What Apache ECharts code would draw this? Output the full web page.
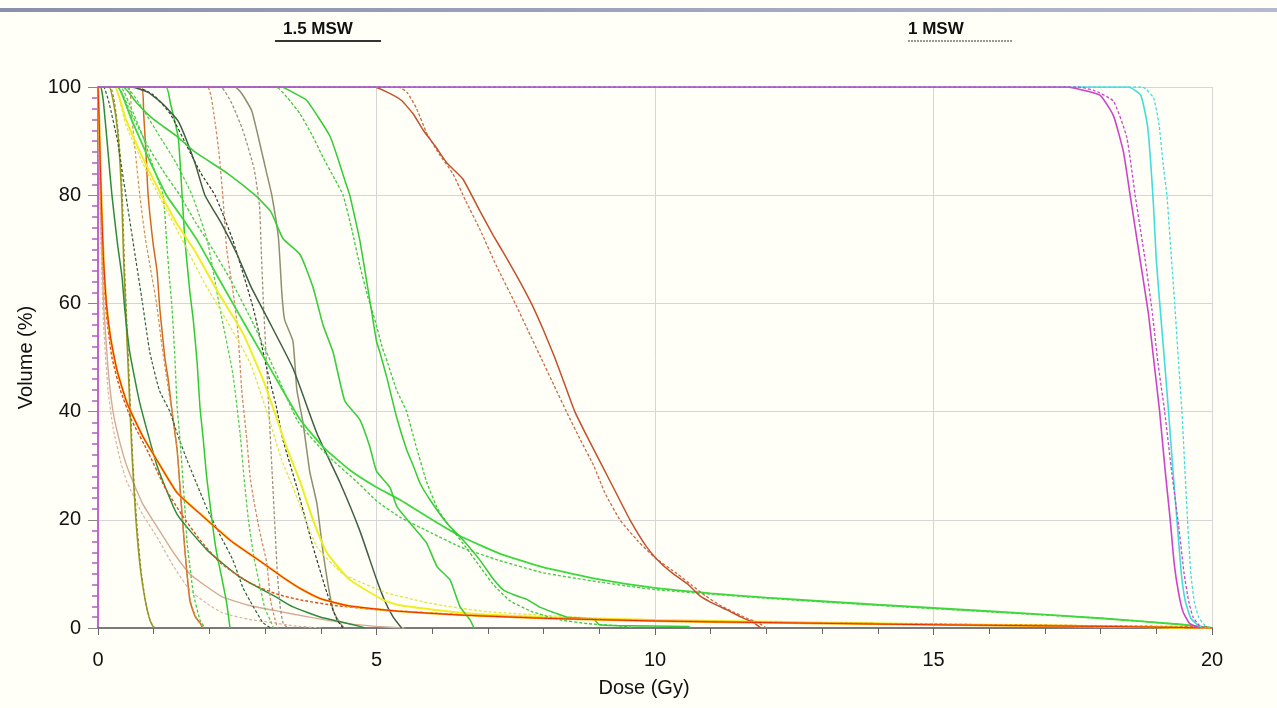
<!DOCTYPE html>
<html><head><meta charset="utf-8">
<script src="https://cdn.jsdelivr.net/npm/echarts@6/dist/echarts.min.js"></script>
<style>html,body{margin:0;padding:0;background:#FFFFF7;}#c{width:1277px;height:708px;}</style>
</head><body><div id="c"></div>
<script>
// ---- axis ticks ----
const xTickValues = [0, 5, 10, 15, 20];
const yTickValues = [0, 20, 40, 60, 80, 100];
const legendLabels = ['1.5 MSW', '1 MSW'];

// ---- DVH curves: [dose Gy, volume %] ----
const redOrangeSolid = [[0,100],[0.02,94],[0.04,86],[0.07,76],[0.1,68],[0.15,60],[0.22,54],[0.34,47.7],[0.52,41.6],[0.81,35.3],[1.06,31],[1.42,25],[1.9,20.5],[2.4,16],[2.96,12],[3.3,9.5],[3.63,7.3],[4.0,5.4],[4.5,4.1],[5.4,3.1],[6.5,2.4],[8,1.8],[10,1.3],[12,1.0],[15,0.6],[18,0.3],[20,0]];
const redOrangeDashed = [[0,100],[0.02,92],[0.04,84],[0.07,74],[0.1,66],[0.15,58],[0.25,50],[0.4,44],[0.6,38.5],[0.9,32.5],[1.2,26],[1.5,21],[1.83,16.3],[2.2,12],[2.73,8.3],[3.2,6.3],[3.63,5.2],[4.22,4.2],[5,3.4],[7,2.2],[10,1.3],[15,0.7],[19.9,0.2],[20,0]];
const tanSolid = [[0,100],[0.02,90],[0.05,75],[0.1,60],[0.18,48],[0.27,40],[0.4,34],[0.55,29],[0.8,23],[1.06,18.7],[1.35,14],[1.65,10],[2.0,7.3],[2.24,5.7],[2.7,4.2],[3.14,3.3],[3.8,2],[4.5,0.8],[5,0.3],[5.5,0]];
const tanDashed = [[0,100],[0.02,88],[0.05,72],[0.1,56],[0.18,44],[0.27,37],[0.4,31],[0.52,27],[0.8,21],[1.06,16.8],[1.35,11.5],[1.65,7],[2.0,4.2],[2.24,2.8],[2.7,1.6],[3.14,1],[3.5,0.4],[4,0]];
const darkGreenSolid = [[0,100],[0.05,100],[0.1,97],[0.18,88],[0.25,80],[0.35,71],[0.43,65],[0.48,59],[0.57,51],[0.75,41.6],[1.06,30],[1.42,21],[1.96,14.4],[2.55,9.4],[3.2,5.7],[3.5,3.9],[4.0,2],[4.34,1.2],[4.7,0.3],[4.8,0]];
const darkGreenDashed = [[0,100],[0.1,100],[0.2,97],[0.35,90],[0.5,80],[0.65,70],[0.8,60],[0.93,51],[1.1,44],[1.29,40],[1.42,36],[1.6,31],[1.96,22],[2.2,17],[2.42,12.6],[2.6,7.5],[2.73,5],[2.96,1],[3.1,0]];
const oliveSolid = [[0,100],[0.2,100],[0.28,97],[0.35,92],[0.4,85],[0.43,78],[0.46,68],[0.5,58],[0.55,46],[0.61,32],[0.68,20],[0.76,11],[0.85,5],[0.93,1.5],[1.0,0]];
const oliveDashed = [[0,100],[0.22,100],[0.3,97],[0.37,91],[0.42,84],[0.45,76],[0.48,66],[0.52,56],[0.57,44],[0.63,30],[0.7,19],[0.78,10],[0.87,4],[0.95,1],[1.02,0]];
const peruSolid = [[0,100],[0.78,100],[0.82,95],[0.86,88],[0.9,80],[0.99,71],[1.06,66],[1.11,59],[1.2,50],[1.26,46],[1.33,40],[1.42,33],[1.48,25],[1.56,14.4],[1.65,5],[1.75,2],[1.83,1],[1.88,0]];
const peruDashed = [[0,100],[0.55,100],[0.6,95],[0.68,87],[0.75,80],[0.85,72],[0.95,66],[1.05,60],[1.15,52],[1.25,45],[1.33,40],[1.42,33],[1.5,22],[1.58,12],[1.66,5],[1.78,1.5],[1.9,0]];
const yellowSolid = [[0,100],[0.3,100],[0.5,94],[0.8,87],[1.14,80],[1.4,75],[1.74,69.7],[2.13,62.5],[2.6,54.5],[2.96,46],[3.2,39],[3.4,33],[3.63,27],[3.86,20],[4.11,13.9],[4.52,8.9],[5.12,5.2],[5.42,4.2],[6.5,2.8],[8,2],[10,1.5],[13,1.0],[16,0.6],[19,0.2],[19.5,0]];
const yellowDashed = [[0,100],[0.3,100],[0.5,93],[0.8,86],[1.14,79],[1.5,72],[1.9,64],[2.3,57],[2.73,49],[3.03,40],[3.3,31],[3.5,26],[3.93,15],[4.4,10],[5.19,6.5],[6,4.5],[7,3],[9,1.8],[12,1],[16,0.5],[19.5,0]];
const brightGreenSolid = [[0,100],[1.22,100],[1.3,97],[1.44,90.7],[1.51,80],[1.56,71.7],[1.65,62],[1.71,57],[1.78,49],[1.83,40.9],[1.89,34.8],[1.95,28],[2.01,23],[2.07,18],[2.13,13.9],[2.22,9.4],[2.31,4.6],[2.37,0]];
const lightGreenDashed = [[0,100],[0.4,100],[0.6,96],[0.8,91],[1.0,85],[1.17,80],[1.23,71.7],[1.28,65],[1.33,59],[1.38,50],[1.42,41],[1.47,35],[1.5,31],[1.56,22],[1.6,15.7],[1.71,6.5],[1.83,1.5],[1.92,0]];
const midGreenDashed = [[0,100],[0.5,100],[0.8,96],[1.1,91],[1.4,86],[1.69,80],[1.96,71.7],[2.19,59],[2.42,47],[2.55,36],[2.62,28],[2.7,20],[2.8,13],[2.91,7.6],[3.0,3.5],[3.09,1.5],[3.15,0]];
const tailGreenSolid = [[0,100],[0.35,100],[0.6,94],[0.9,87],[1.23,80],[1.5,76],[1.78,71.7],[2.2,64],[2.7,55],[3.23,45.5],[3.63,38.5],[4.04,33.5],[4.52,29.2],[5.0,26],[5.42,23.7],[6,20],[6.5,17],[7.2,13.8],[8,11.2],[9,9],[10,7.4],[11,6.4],[12,5.6],[14,4.3],[16,3.1],[18,1.8],[19.5,0.6],[20,0]];
const tailGreenDashed = [[0,100],[0.35,100],[0.6,95],[0.9,89],[1.2,84],[1.47,80],[1.75,75],[2.0,71],[2.4,64],[2.8,56],[3.2,47],[3.6,38],[4.11,32],[4.65,27],[5.0,23.5],[5.42,20.5],[6,17.5],[6.5,15],[7.2,12.5],[8,10.2],[9,8.5],[10,7.1],[12,5.5],[14,4.2],[16,3.0],[18,1.8],[19.5,0.6],[20,0]];
const shoulderGreenSolid = [[0,100],[0.45,100],[0.7,97],[1.0,94],[1.4,91],[1.74,88],[2.33,84],[2.82,80],[3.1,77],[3.32,72],[3.63,69],[3.86,63],[4.04,56],[4.22,51],[4.43,42],[4.7,38.5],[4.88,33.5],[5.0,29],[5.24,26],[5.37,22.4],[5.66,18.7],[5.9,15.7],[6.09,11.3],[6.32,8.9],[6.5,3.9],[6.68,1.5],[6.75,0]];
const darkSlateSolid = [[0,100],[0.6,100],[0.9,99],[1.15,97],[1.44,93.7],[1.74,86],[1.92,80],[2.22,74.7],[2.5,69],[2.75,63],[3.03,57.5],[3.5,48],[3.93,36],[4.34,27],[4.7,18],[5.0,9],[5.15,5],[5.3,2],[5.45,0]];
const darkSlateDashed = [[0,100],[0.7,100],[1.0,98.5],[1.3,95],[1.6,89],[1.85,84],[2.1,80],[2.42,71.7],[2.79,59],[3.03,48],[3.2,41],[3.32,34.8],[3.57,26],[3.86,15],[4.11,6.5],[4.29,1.5],[4.4,0]];
const salmonDashed = [[0,100],[1.96,100],[2.08,95],[2.17,88],[2.24,80],[2.31,70],[2.42,62.5],[2.51,55],[2.58,44],[2.67,35],[2.73,28],[2.79,24],[2.9,18],[3.03,12],[3.1,5],[3.18,1.5],[3.22,0]];
const oliveGraySolid = [[0,100],[2.46,100],[2.58,98.8],[2.76,95.6],[2.94,88],[3.03,84],[3.12,80],[3.24,72],[3.3,62],[3.35,57],[3.5,53],[3.57,44],[3.68,38],[3.8,29],[3.93,23],[4.04,14],[4.13,8],[4.22,3.3],[4.34,1],[4.42,0]];
const grayBrownDashed = [[0,100],[2.2,100],[2.4,97],[2.6,92],[2.8,85],[2.9,78],[2.93,70],[2.97,60],[3.03,48],[3.08,38],[3.13,28],[3.18,18],[3.22,10],[3.27,4],[3.32,1],[3.4,0]];
const limeSolid = [[0,100],[3.3,100],[3.5,99],[3.74,97.6],[3.95,94.5],[4.17,90.8],[4.3,87],[4.43,82.8],[4.52,80],[4.62,75.5],[4.7,71.7],[4.82,64.3],[4.92,58],[5.0,53],[5.06,51],[5.18,46.5],[5.36,39],[5.54,33],[5.66,30],[5.78,26.8],[5.96,23.7],[6.26,19.4],[6.55,16.3],[6.86,12.5],[7.1,9],[7.28,7],[7.5,6],[7.7,5.3],[7.94,3.8],[8.2,2.8],[8.42,2],[8.9,1.6],[9.0,0.6],[9.5,0.4],[10.6,0.3],[10.65,0]];
const limeDashed = [[0,100],[3.2,100],[3.4,98],[3.63,95],[3.85,91],[4.04,87],[4.25,83],[4.4,80],[4.55,74],[4.7,67],[4.85,61],[4.97,57],[5.1,52],[5.2,49],[5.36,44],[5.54,40],[5.7,34],[5.9,27],[6.1,22],[6.3,19],[6.6,15],[6.86,11.3],[7.1,8],[7.4,5],[7.8,3],[8.3,1.5],[8.8,0.8],[9.5,0.3],[9.6,0]];
const siennaSolid = [[0,100],[4.95,100],[5.2,99],[5.45,97.5],[5.66,95],[5.84,92],[6.06,89],[6.26,86],[6.55,83],[6.86,77],[7.1,72.5],[7.3,69],[7.55,64.5],[7.78,60],[8.0,55],[8.2,50],[8.38,45],[8.56,40],[8.8,35],[9.05,30],[9.3,25],[9.55,20],[9.85,15],[10.1,12],[10.33,10],[10.6,8],[10.8,6],[11.05,4.5],[11.3,3.3],[11.55,2],[11.77,1],[11.9,0]];
const siennaDashed = [[0,100],[5.4,100],[5.55,99],[5.72,96],[5.9,91.5],[6.1,88],[6.37,84],[6.6,79],[6.86,73.6],[7.15,67],[7.49,60],[7.72,55],[7.95,50],[8.18,45],[8.41,40],[8.65,35],[8.9,30],[9.1,25],[9.37,20],[9.7,16],[10.0,13],[10.4,10],[10.65,8],[10.9,6],[11.15,4.3],[11.4,3],[11.65,1.8],[11.85,1],[12.0,0]];
const cyanSolid = [[0,100],[18.5,100],[18.72,98.5],[18.84,93],[18.9,86],[18.95,78],[19.0,68],[19.07,59],[19.15,49],[19.22,40],[19.3,29],[19.37,20],[19.45,10],[19.52,5],[19.62,1.8],[19.78,0.3],[19.9,0]];
const cyanDashed = [[0,100],[18.75,100],[18.95,98],[19.05,93],[19.12,86],[19.19,80],[19.26,70],[19.33,60],[19.4,49],[19.46,40],[19.51,30],[19.56,20],[19.62,10],[19.68,5],[19.76,2],[19.88,0.4],[20,0]];
const magentaSolid = [[0,100],[17.4,100],[17.65,99.5],[17.99,98.5],[18.23,94.7],[18.41,88],[18.53,80],[18.71,68],[18.86,58],[18.96,49],[19.06,40],[19.16,29],[19.25,20],[19.32,12],[19.4,6.5],[19.48,3],[19.6,0.8],[19.78,0]];
const magentaDashed = [[0,100],[17.6,100],[17.9,99.3],[18.23,97.4],[18.47,90.7],[18.62,80],[18.8,68],[18.92,59],[19.03,49],[19.15,40],[19.28,28.5],[19.4,19],[19.5,10],[19.58,5],[19.66,2],[19.78,0.4],[19.9,0]];

// ---- series list: [data, colour, dashed, width] ----
const curves = [
  [tanSolid,'#D4AA98',false,1.4],[tanDashed,'#D8B4A4',true,1.2],
  [oliveSolid,'#9A9A20',false,1.5],[oliveDashed,'#8E8E30',true,1.2],
  [peruSolid,'#D2691E',false,1.5],[peruDashed,'#D09050',true,1.2],
  [darkGreenSolid,'#2E8B3A',false,1.5],[darkGreenDashed,'#2F5F3F',true,1.2],
  [lightGreenDashed,'#44CC44',true,1.3],[midGreenDashed,'#55CC55',true,1.3],
  [brightGreenSolid,'#2ECC2E',false,1.5],
  [salmonDashed,'#D08868',true,1.3],
  [grayBrownDashed,'#9C8E80',true,1.3],[oliveGraySolid,'#8E8E70',false,1.5],
  [darkSlateDashed,'#2A3A2E',true,1.2],[darkSlateSolid,'#3E5E44',false,1.5],
  [yellowDashed,'#E2E24A',true,1.3],[yellowSolid,'#EEEE22',false,2],
  [tailGreenDashed,'#4CCC4C',true,1.4],[tailGreenSolid,'#3ED83E',false,1.8],
  [shoulderGreenSolid,'#3CCC3C',false,1.6],
  [limeDashed,'#3CC83C',true,1.3],[limeSolid,'#33CC33',false,1.5],
  [siennaDashed,'#C66A4A',true,1.3],[siennaSolid,'#C4502C',false,1.5],
  [redOrangeDashed,'#D8501A',true,1.4],
  [redOrangeSolid,'#FFA010',false,2.2],[redOrangeSolid,'#E02A00',false,1],
  [cyanDashed,'#40DDE0',true,1.3],[cyanSolid,'#40DDDD',false,1.6],
  [magentaDashed,'#CC44CC',true,1.3],[magentaSolid,'#CC44CC',false,1.6]
];

const series = curves.map((c, i) => ({
  type: 'line', data: c[0], showSymbol: false, symbol: 'none', silent: true,
  smooth: 0.15, z: 2 + i * 0.01,
  lineStyle: { color: c[1], width: c[3], type: c[2] ? [3, 2] : 'solid' }
}));

const chart = echarts.init(document.getElementById('c'), null, { renderer: 'canvas' });
chart.setOption({
  backgroundColor: '#FFFFF7',
  animation: false,
  grid: { left: 98, right: 65, top: 87, bottom: 80 },
  xAxis: {
    type: 'value', min: xTickValues[0], max: xTickValues[xTickValues.length - 1], interval: 5,
    name: 'Dose (Gy)', nameLocation: 'middle', nameGap: 50,
    nameTextStyle: { fontFamily: 'Liberation Sans', fontSize: 20, color: '#111', padding: [0, 22, 0, 0] },
    axisLine: { show: true, onZero: false, lineStyle: { color: '#7A7A7A', width: 2 } },
    axisTick: { show: true, length: 7, lineStyle: { color: '#666' } },
    minorTick: { show: true, splitNumber: 5, length: 6, lineStyle: { color: '#666' } },
    splitLine: { show: true, lineStyle: { color: '#D6D6D6', width: 1 } },
    axisLabel: { fontFamily: 'Liberation Sans', fontSize: 20, color: '#111', margin: 22 }
  },
  yAxis: {
    type: 'value', min: yTickValues[0], max: yTickValues[yTickValues.length - 1], interval: 20,
    name: 'Volume (%)', nameLocation: 'middle', nameGap: 58, nameRotate: 90,
    nameTextStyle: { fontFamily: 'Liberation Sans', fontSize: 20, color: '#111' },
    axisLine: { show: true, lineStyle: { color: '#C464D0', width: 2 } },
    axisTick: { show: true, length: 10, lineStyle: { color: '#888' } },
    minorTick: { show: true, splitNumber: 10, length: 6, lineStyle: { color: '#B060C0', width: 1.5 } },
    splitLine: { show: true, lineStyle: { color: '#D6D6D6', width: 1 } },
    axisLabel: { fontFamily: 'Liberation Sans', fontSize: 20, color: '#111', margin: 17 }
  },
  graphic: [
    { type: 'rect', left: 0, top: 8, shape: { width: 1277, height: 4 }, silent: true,
      style: { fill: new echarts.graphic.LinearGradient(0, 0, 1, 0, [{ offset: 0, color: '#8990AC' }, { offset: 1, color: '#B4B9CE' }]) } },
    { type: 'text', left: 283, top: 21, silent: true,
      style: { text: legendLabels[0], font: 'bold 17px "Liberation Sans"', fill: '#111' } },
    { type: 'line', silent: true, shape: { x1: 275, y1: 41, x2: 381, y2: 41 },
      style: { stroke: '#333', lineWidth: 2 } },
    { type: 'text', left: 908, top: 21, silent: true,
      style: { text: legendLabels[1], font: 'bold 17px "Liberation Sans"', fill: '#111' } },
    { type: 'line', silent: true, shape: { x1: 908, y1: 41, x2: 1012, y2: 41 },
      style: { stroke: '#333', lineWidth: 1.2, lineDash: [2, 1] } }
  ],
  series: series
});
</script>
</body></html>
